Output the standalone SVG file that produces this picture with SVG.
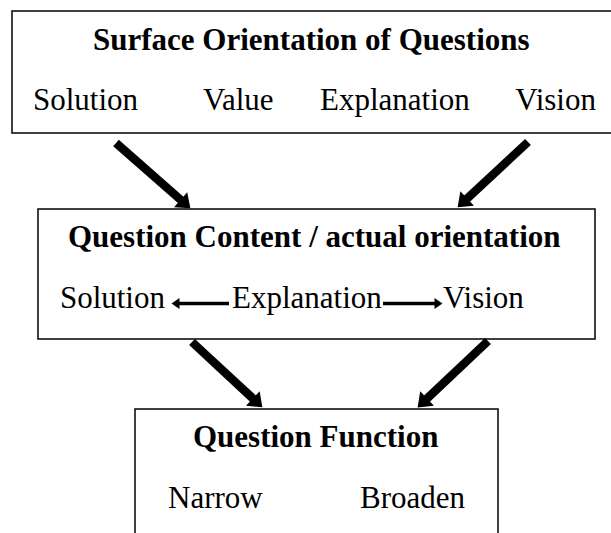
<svg xmlns="http://www.w3.org/2000/svg" width="611" height="533" viewBox="0 0 611 533">
<defs>
<style>
.box{fill:#fff;stroke:#111;stroke-width:1.6}
.t{font-family:"Liberation Serif","Times New Roman",serif;font-size:31px;fill:#000}
.b{font-weight:bold}
.big{stroke:#000;stroke-width:8.5;fill:none}
.sm{stroke:#000;stroke-width:3.6;fill:none}
</style>
<marker id="ah" markerUnits="userSpaceOnUse" markerWidth="14" markerHeight="20" viewBox="0 0 14 20" refX="0.5" refY="10" orient="auto" overflow="visible">
<path d="M0,0 L13,10 L0,20 z" fill="#000"/>
</marker>
<marker id="sh" markerUnits="userSpaceOnUse" markerWidth="8" markerHeight="11" viewBox="0 0 8 11" refX="0.5" refY="5.5" orient="auto" overflow="visible">
<path d="M0,0 L8,5.5 L0,11 z" fill="#000"/>
</marker>
</defs>
<rect width="611" height="533" fill="#fff"/>
<g id="surface">
<rect class="box" x="12" y="11" width="630" height="122"/>
<text class="t b" x="93" y="50">Surface Orientation of Questions</text>
<text class="t" x="33" y="110">Solution</text>
<text class="t" x="203" y="110">Value</text>
<text class="t" x="320" y="110">Explanation</text>
<text class="t" x="596" y="110" text-anchor="end">Vision</text>
</g>
<g id="content">
<rect class="box" x="38" y="209" width="557" height="130"/>
<text class="t b" x="68" y="247">Question Content / actual orientation</text>
<text class="t" x="165" y="308" text-anchor="end">Solution</text>
<text class="t" x="232" y="308">Explanation</text>
<text class="t" x="443" y="308">Vision</text>
<line class="sm" x1="229" y1="303.5" x2="179" y2="303.5" marker-end="url(#sh)"/>
<line class="sm" x1="383" y1="303.5" x2="435" y2="303.5" marker-end="url(#sh)"/>
</g>
<g id="function">
<rect class="box" x="135" y="409" width="363" height="200"/>
<text class="t b" x="193" y="447">Question Function</text>
<text class="t" x="168" y="508">Narrow</text>
<text class="t" x="360" y="508">Broaden</text>
</g>
<g id="connectors">
<line class="big" x1="116" y1="143" x2="181" y2="200.1" marker-end="url(#ah)"/>
<line class="big" x1="528" y1="142" x2="466.8" y2="198.8" marker-end="url(#ah)"/>
<line class="big" x1="192" y1="342" x2="253.2" y2="398.8" marker-end="url(#ah)"/>
<line class="big" x1="488" y1="341" x2="426.7" y2="398.8" marker-end="url(#ah)"/>
</g>
</svg>
